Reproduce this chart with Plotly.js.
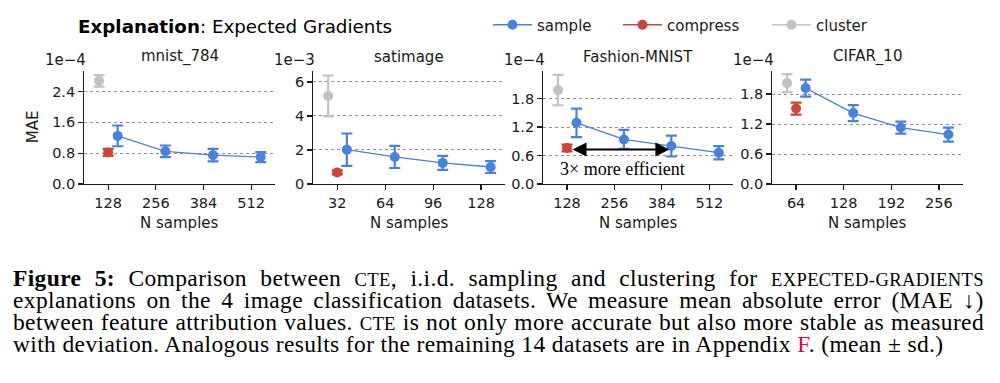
<!DOCTYPE html>
<html><head><meta charset="utf-8">
<script src="https://cdn.plot.ly/plotly-3.0.1.min.js"></script>
<style>html,body{margin:0;padding:0;background:#fff}#chart{width:1000px;height:383px}</style>
</head><body><div id="chart"></div>
<script>
// ---------------- data (values in units of the axis offset, e.g. 1e-4) ----------------
const datasets = ['mnist_784', 'satimage', 'Fashion-MNIST', 'CIFAR_10'];
const offsetLabels = ['1e\u22124', '1e\u22123', '1e\u22124', '1e\u22124'];
const nSamples = [[128, 256, 384, 512], [32, 64, 96, 128], [128, 256, 384, 512], [64, 128, 192, 256]];
const sampleMean = [[1.25, 0.85, 0.75, 0.70], [2.02, 1.59, 1.24, 1.00], [1.29, 0.94, 0.80, 0.66], [1.92, 1.42, 1.13, 0.99]];
const sampleSd   = [[0.27, 0.15, 0.16, 0.13], [0.95, 0.65, 0.41, 0.35], [0.30, 0.20, 0.22, 0.14], [0.17, 0.16, 0.12, 0.14]];
const compressMean = [0.82, 0.68, 0.76, 1.51];
const compressSd   = [0.09, 0.12, 0.07, 0.12];
const clusterMean  = [2.68, 5.17, 1.98, 2.02];
const clusterSd    = [0.15, 1.20, 0.32, 0.18];
const yTickVals = [[0, 0.8, 1.6, 2.4], [0, 2, 4, 6], [0, 0.6, 1.2, 1.8], [0, 0.6, 1.2, 1.8]];
const yTickFormats = ['.1f', 'd', '.1f', '.1f'];
const seriesNames = ['sample', 'compress', 'cluster'];
const annotationText = '3\u00d7 more efficient';

// ---------------- style ----------------
const W = 1000, H = 383;
const FONT = 'DejaVu Sans';
const SERIF = 'Liberation Serif';
const COLORS = {sample: '#4a82d8', compress: '#c8463e', cluster: '#c2c2c2'};
const INK = '#1a1a1a';
const panelPx = [[84.3, 275], [313.3, 505], [543.3, 733], [772.3, 962.7]];
const plotTop = 70.7, plotBottom = 184;
const DODGE = {sample: 0.2, compress: 0, cluster: -0.19};
const legendLeftPx = [488, 618, 767];
const px = p => p / W, py = p => 1 - p / H;

const traces = [];
const layout = {
  width: W, height: H,
  margin: {l: 0, r: 0, t: 0, b: 0},
  paper_bgcolor: '#fff', plot_bgcolor: '#fff',
  font: {family: FONT, size: 15, color: INK},
  showlegend: true,
  annotations: []
};
const legendIds = ['legend', 'legend2', 'legend3'];
legendIds.forEach((lid, k) => {
  layout[lid] = {orientation: 'h', x: px(legendLeftPx[k]), xanchor: 'left', y: py(25), yanchor: 'middle',
    itemwidth: 39, font: {family: FONT, size: 15, color: INK}, bgcolor: 'rgba(0,0,0,0)'};
});

function errBar(arr, color) {
  return {type: 'data', array: arr, visible: true, thickness: 2.2, width: 5.5, color: color};
}

datasets.forEach((name, i) => {
  const id = i === 0 ? '' : String(i + 1);
  const ns = nSamples[i];
  const step = ns[1] - ns[0];
  const common = {xaxis: 'x' + id, yaxis: 'y' + id, mode: 'lines+markers', hoverinfo: 'skip'};
  const series = [
    {key: 'sample', x: ns.map(n => n + DODGE.sample * step), y: sampleMean[i], sd: sampleSd[i]},
    {key: 'compress', x: [ns[0] + DODGE.compress * step], y: [compressMean[i]], sd: [compressSd[i]]},
    {key: 'cluster', x: [ns[0] + DODGE.cluster * step], y: [clusterMean[i]], sd: [clusterSd[i]]}
  ];
  series.forEach((s, k) => {
    traces.push(Object.assign({}, common, {
      name: seriesNames[k], legendgroup: seriesNames[k], legend: legendIds[k], showlegend: i === 0,
      x: s.x, y: s.y, error_y: errBar(s.sd, COLORS[s.key]),
      line: {color: COLORS[s.key], width: 1.3}, marker: {color: COLORS[s.key], size: 10}
    }));
  });

  // matplotlib-like autoscale: bottom fixed at 0, top = max + 5% of data span
  const tops = [...sampleMean[i].map((m, k) => m + sampleSd[i][k]), compressMean[i] + compressSd[i], clusterMean[i] + clusterSd[i]];
  const bots = [...sampleMean[i].map((m, k) => m - sampleSd[i][k]), compressMean[i] - compressSd[i], clusterMean[i] - clusterSd[i]];
  const ymax = Math.max(...tops), ymin = Math.min(...bots);
  const yTop = ymax + 0.05 * (ymax - ymin);

  const [x0, x1] = panelPx[i];
  layout['xaxis' + id] = {
    domain: [px(x0), px(x1)], anchor: 'y' + id,
    range: [ns[0] / 2, ns[ns.length - 1] + ns[0] / 2],
    tickmode: 'array', tickvals: ns, ticktext: ns.map(String),
    showline: true, linecolor: INK, linewidth: 1.2,
    ticks: 'outside', ticklen: 5, tickwidth: 1.2, tickcolor: INK,
    showgrid: false, zeroline: false,
    tickfont: {family: FONT, size: 14.5, color: INK}
  };
  layout['yaxis' + id] = {
    domain: [py(plotBottom), py(plotTop)], anchor: 'x' + id,
    range: [0, yTop],
    tickmode: 'array', tickvals: yTickVals[i], tickformat: yTickFormats[i],
    showline: true, linecolor: INK, linewidth: 1.2,
    ticks: 'outside', ticklen: 5, tickwidth: 1.2, tickcolor: INK,
    showgrid: true, gridcolor: '#8f8f8f', griddash: 'dot', gridwidth: 1,
    zeroline: false,
    tickfont: {family: FONT, size: 14.5, color: INK}
  };
  const cx = (x0 + x1) / 2;
  layout.annotations.push({xref: 'paper', yref: 'paper', x: px(cx), y: py(56.5), xanchor: 'center', yanchor: 'middle',
    text: name, showarrow: false, font: {family: FONT, size: 15, color: INK}});
  layout.annotations.push({xref: 'paper', yref: 'paper', x: px(x0 + 4), y: py(60.5), xanchor: 'right', yanchor: 'middle',
    text: offsetLabels[i], showarrow: false, font: {family: FONT, size: 15, color: INK}});
  layout.annotations.push({xref: 'paper', yref: 'paper', x: px(cx), y: py(222.7), xanchor: 'center', yanchor: 'middle',
    text: 'N samples', showarrow: false, font: {family: FONT, size: 15, color: INK}});
});

// y title
layout.annotations.push({xref: 'paper', yref: 'paper', x: px(33), y: py(127.3), xanchor: 'center', yanchor: 'middle',
  text: 'MAE', textangle: -90, showarrow: false, font: {family: FONT, size: 15, color: INK}});
// figure title
layout.annotations.push({xref: 'paper', yref: 'paper', x: px(76), y: py(26.7), xanchor: 'left', yanchor: 'middle',
  text: '<b>Explanation</b>: Expected Gradients', showarrow: false, font: {family: FONT, size: 18.3, color: '#000'}});

// efficiency arrow in Fashion-MNIST panel: from compress (128) to the sample run at 384
{
  const ns = nSamples[2], step = ns[1] - ns[0];
  layout.annotations.push({xref: 'x3', yref: 'y3', axref: 'x3', ayref: 'y3',
    x: ns[2] + DODGE.sample * step, y: compressMean[2] - 0.03,
    ax: ns[0], ay: compressMean[2] - 0.03,
    text: '', showarrow: true, arrowside: 'end+start', arrowhead: 2, startarrowhead: 2,
    arrowsize: 1.4, startarrowsize: 1.4, arrowwidth: 2, arrowcolor: '#000', standoff: 2, startstandoff: 4});
  layout.annotations.push({xref: 'paper', yref: 'paper', x: px(622.5), y: py(169), xanchor: 'center', yanchor: 'middle',
    text: annotationText, showarrow: false, font: {family: SERIF, size: 18, color: '#000'}});
}

// ---------------- caption (justified lines) ----------------
const captionLines = [
  [{t: 'Figure 5:', b: true}, {t: ' Comparison between '}, {t: 'CTE', sc: true}, {t: ', i.i.d. sampling and clustering for '}, {t: 'EXPECTED-GRADIENTS', sc: true}],
  [{t: 'explanations on the 4 image classification datasets. We measure mean absolute error (MAE \u2193)'}],
  [{t: 'between feature attribution values. '}, {t: 'CTE', sc: true}, {t: ' is not only more accurate but also more stable as measured'}],
  [{t: 'with deviation. Analogous results for the remaining 14 datasets are in Appendix '}, {t: 'F', color: '#c0143c'}, {t: '. (mean \u00b1 sd.)'}]
];
const CAP_SIZE = 23.5, SC_SIZE = 18.6, CAP_LEFT = 12, CAP_RIGHT = 983, LAST_LINE_RIGHT = 947;
const capY = [277.5, 299.5, 321.5, 343.5];
const ctx = document.createElement('canvas').getContext('2d');
function segWidth(s) {
  ctx.font = (s.b ? 'bold ' : '') + (s.sc ? SC_SIZE : CAP_SIZE) + 'px "' + SERIF + '"';
  return ctx.measureText(s.t).width;
}
const lineStats = captionLines.map(segs => ({
  natural: segs.reduce((a, s) => a + segWidth(s), 0),
  chars: segs.reduce((a, s) => a + s.t.length, 0),
  spaces: segs.reduce((a, s) => a + (s.t.match(/ /g) || []).length, 0)
}));
const last = lineStats[lineStats.length - 1];
const letterSp = (LAST_LINE_RIGHT - CAP_LEFT - last.natural) / last.chars;
captionLines.forEach((segs, li) => {
  const st0 = lineStats[li];
  const justify = li < captionLines.length - 1;
  const spread = st0.natural + letterSp * st0.chars;
  const ws = justify ? (CAP_RIGHT - CAP_LEFT - spread) / st0.spaces : 0;
  const html = segs.map(s => {
    const st = ['letter-spacing:' + letterSp.toFixed(3) + 'px', 'word-spacing:' + ws.toFixed(2) + 'px'];
    if (s.b) st.push('font-weight:bold');
    if (s.sc) st.push('font-size:' + SC_SIZE + 'px');
    if (s.color) st.push('color:' + s.color);
    return '<span style="' + st.join(';') + '">' + s.t + '</span>';
  }).join('');
  layout.annotations.push({xref: 'paper', yref: 'paper', x: px(CAP_LEFT - 1), y: py(capY[li]), xanchor: 'left', yanchor: 'middle',
    text: html, showarrow: false, align: 'left', font: {family: SERIF, size: CAP_SIZE, color: '#000'}});
});

Plotly.newPlot('chart', traces, layout, {staticPlot: true, displayModeBar: false});
</script>
</body></html>
